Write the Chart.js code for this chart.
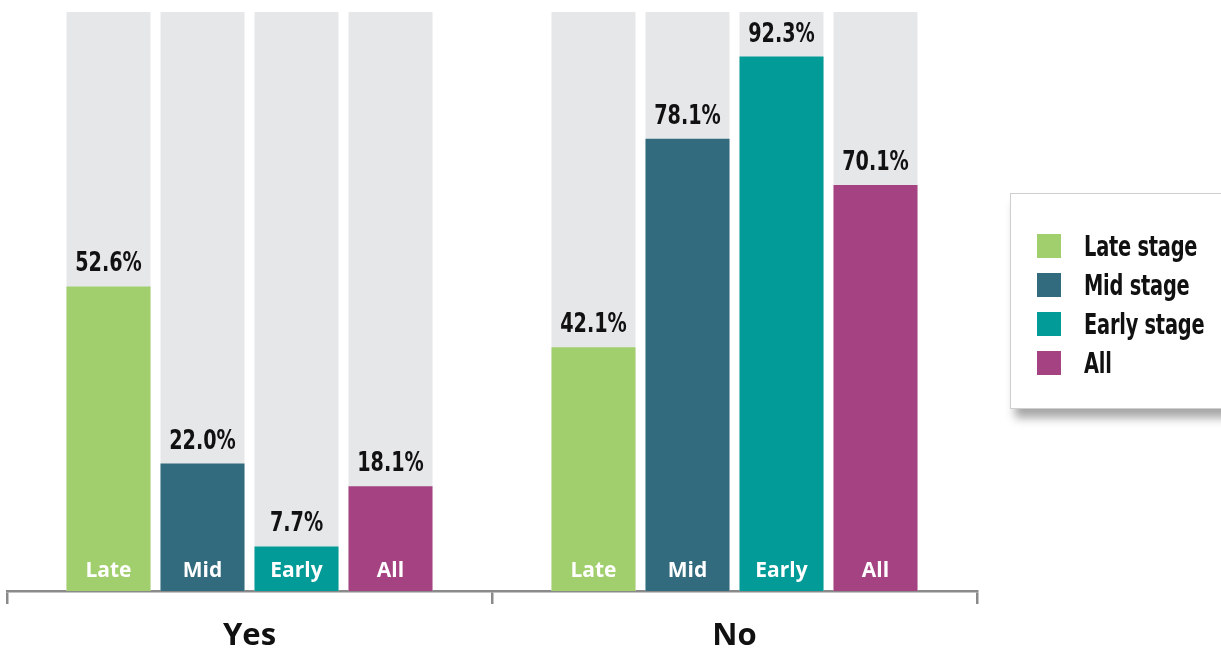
<!DOCTYPE html>
<html>
<head>
<meta charset="utf-8">
<script src="https://cdn.jsdelivr.net/npm/chart.js@4/dist/chart.umd.min.js"></script>
<style>
  html, body { margin: 0; padding: 0; background: #fff; }
  #wrap { position: relative; width: 1221px; height: 649px; overflow: hidden; }
  #c { position: absolute; left: 0; top: 0; }
  #legend {
    position: absolute; left: 1010px; top: 193px; width: 240px; height: 216px;
    background: #fff; border: 1px solid #cfcfcf; box-sizing: border-box;
    box-shadow: 5px 9px 9px rgba(0,0,0,0.35);
  }
  .item { position: absolute; left: 26px; height: 24px; display: flex; align-items: center; }
  .sw { width: 24px; height: 24px; margin-right: 23px; flex: none; }
  .lt { font-family: "DejaVu Sans Condensed", "DejaVu Sans", sans-serif; font-weight: 700;
        font-size: 28px; color: #111; white-space: nowrap; display: inline-block;
        transform: scaleX(0.77); transform-origin: left center; letter-spacing: -0.3px; }
</style>
</head>
<body>
<div id="wrap">
  <canvas id="c" width="1221" height="649"></canvas>
  <div id="legend"></div>
</div>
<script>
// Groups along the x axis
const groups = ["Yes", "No"];
// Stage series (percent of respondents)
const stageNames = ["Late stage", "Mid stage", "Early stage", "All"];
const stageShort = ["Late", "Mid", "Early", "All"];
const stageColors = ["#a2cf6e", "#326b7e", "#039b98", "#a54382"];
const lateValues  = [52.6, 42.1];
const midValues   = [22.0, 78.1];
const earlyValues = [7.7, 92.3];
const allValues   = [18.1, 70.1];
// Full-height track behind each bar
const trackValues = [100, 100];
const trackColor = "#e6e7e9";

const seriesValues = [lateValues, midValues, earlyValues, allValues];
const CAT_PCT = 0.7753, BAR_PCT = 0.8936;

// Each stage shares a slot ("stack") with its grey track; values overlap, not add.
const datasets = [];
seriesValues.forEach((vals, i) => {
  datasets.push({
    label: stageNames[i], data: vals, backgroundColor: stageColors[i],
    stack: "s" + i, categoryPercentage: CAT_PCT, barPercentage: BAR_PCT,
    order: 1, borderWidth: 0
  });
});
seriesValues.forEach((vals, i) => {
  datasets.push({
    label: "track" + i, data: trackValues, backgroundColor: trackColor,
    stack: "s" + i, categoryPercentage: CAT_PCT, barPercentage: BAR_PCT,
    order: 2, borderWidth: 0, isTrack: true
  });
});

const VALUE_FONT = "700 26px 'DejaVu Sans Condensed', 'DejaVu Sans', sans-serif";
const VALUE_SQUEEZE = 0.82;

const barLabels = {
  id: "barLabels",
  afterDatasetsDraw(chart) {
    const ctx = chart.ctx;
    chart.data.datasets.forEach((ds, di) => {
      if (ds.isTrack) return;
      const meta = chart.getDatasetMeta(di);
      meta.data.forEach((bar, j) => {
        const v = ds.data[j];
        ctx.save();
        ctx.translate(bar.x, bar.y - 15);
        ctx.scale(VALUE_SQUEEZE, 1);
        ctx.textAlign = "center";
        ctx.textBaseline = "alphabetic";
        ctx.fillStyle = "#111";
        ctx.font = VALUE_FONT;
        ctx.fillText(v.toFixed(1) + "%", 0, 0);
        ctx.restore();
        ctx.save();
        ctx.fillStyle = "#ffffff";
        ctx.font = "700 21px 'Open Sans', sans-serif";
        ctx.textAlign = "center";
        ctx.textBaseline = "middle";
        ctx.fillText(stageShort[di], bar.x, chart.chartArea.bottom - 20);
        ctx.restore();
      });
    });
  }
};

new Chart(document.getElementById("c"), {
  type: "bar",
  data: { labels: groups, datasets },
  options: {
    responsive: false,
    animation: false,
    devicePixelRatio: 1,
    layout: { padding: { left: 7, right: 244, top: 12, bottom: 0 } },
    plugins: { legend: { display: false }, tooltip: { enabled: false } },
    scales: {
      x: {
        type: "category",
        stacked: true,
        offset: true,
        grid: { display: true, offset: true, drawOnChartArea: false, drawTicks: true,
                tickLength: 13, color: "#8a8a8a", lineWidth: 2.5 },
        border: { display: true, color: "#8a8a8a", width: 2.5 },
        ticks: { color: "#111", padding: 17,
                 font: { family: "'Open Sans', sans-serif", weight: "700", size: 31, lineHeight: 1 } },
        afterFit(scale) { scale.height = 58; }
      },
      y: { stacked: false, min: 0, max: 100, display: false }
    }
  },
  plugins: [barLabels]
});

// Legend built from the same series arrays
const lg = document.getElementById("legend");
stageNames.forEach((name, i) => {
  const it = document.createElement("div");
  it.className = "item";
  it.style.top = (40 + i * 39) + "px";
  it.innerHTML = '<div class="sw" style="background:' + stageColors[i] + '"></div><span class="lt">' + name + '</span>';
  lg.appendChild(it);
});
</script>
</body>
</html>
